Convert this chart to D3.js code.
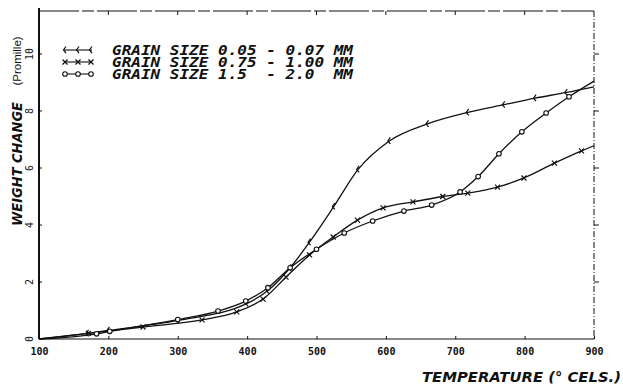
<!DOCTYPE html>
<html>
<head>
<meta charset="utf-8">
<script src="https://cdn.jsdelivr.net/npm/d3@7"></script>
<style>
  body { margin: 0; background: #fff; }
  svg { display: block; }
</style>
</head>
<body>
<script>
// temperatures (deg C) and weight change (promille)
var tempFine = [100, 170, 200, 300, 400, 430, 462, 490, 525, 560, 605, 660, 718, 770, 815, 860, 900];
var wFine    = [0, 0.2, 0.3, 0.65, 1.25, 1.7, 2.5, 3.4, 4.65, 5.95, 6.95, 7.55, 7.95, 8.22, 8.45, 8.65, 8.85];

var tempMid = [100, 171, 250, 335, 385, 423, 456, 490, 524, 559, 596, 639, 682, 718, 761, 799, 843, 882, 900];
var wMid    = [0, 0.2, 0.42, 0.67, 0.95, 1.4, 2.17, 2.95, 3.58, 4.17, 4.6, 4.81, 5.0, 5.12, 5.33, 5.65, 6.17, 6.6, 6.78];

var tempCoarse = [100, 183, 202, 300, 358, 398, 430, 462, 500, 540, 581, 626, 666, 707, 733, 763, 796, 831, 864, 900];
var wCoarse    = [0, 0.18, 0.27, 0.68, 0.98, 1.33, 1.8, 2.5, 3.15, 3.72, 4.14, 4.49, 4.7, 5.16, 5.7, 6.5, 7.27, 7.93, 8.5, 9.05];

var legendLabels = ["GRAIN SIZE 0.05 - 0.07 MM", "GRAIN SIZE 0.75 - 1.00 MM", "GRAIN SIZE 1.5  - 2.0  MM"];
var xTicks = [100, 200, 300, 400, 500, 600, 700, 800, 900];
var yTicks = [0, 2, 4, 6, 8, 10];

var series = [
  { label: legendLabels[0], marker: "tick", t: tempFine, w: wFine },
  { label: legendLabels[1], marker: "cross", t: tempMid, w: wMid },
  { label: legendLabels[2], marker: "circle", t: tempCoarse, w: wCoarse }
];

var W = 623, H = 385;
var svg = d3.select("body").append("svg").attr("width", W).attr("height", H);

var x = d3.scaleLinear().domain([100, 900]).range([39, 594]);
var y = d3.scaleLinear().domain([0, 10]).range([339, 54]);
var yTop = 11;

var ink = "#111";

// frame
var frame = svg.append("g").attr("fill", "none").attr("stroke", ink);
frame.append("line").attr("x1", x(100)).attr("x2", x(100)).attr("y1", yTop - 3).attr("y2", y(0)).attr("stroke-width", 2);
frame.append("line").attr("x1", x(100)).attr("x2", x(900)).attr("y1", y(0)).attr("y2", y(0)).attr("stroke-width", 1.2);
frame.append("line").attr("x1", x(100)).attr("x2", x(900)).attr("y1", yTop).attr("y2", yTop).attr("stroke-width", 1)
  .attr("stroke-dasharray", "40 3 12 3");
frame.append("line").attr("x1", x(900)).attr("x2", x(900)).attr("y1", yTop).attr("y2", y(0)).attr("stroke-width", 1)
  .attr("stroke-dasharray", "6 2 1 2");

// bottom axis
var xAxis = d3.axisBottom(x).tickValues(xTicks).tickSize(0).tickPadding(9);
var gx = svg.append("g").attr("transform", "translate(0," + y(0) + ")").call(xAxis);
gx.select(".domain").remove();
gx.selectAll("text").attr("font-family", "DejaVu Sans Mono").attr("font-weight", "bold").attr("font-size", 10).attr("fill", ink);
gx.selectAll(".tick").append("line").attr("y1", 0).attr("y2", -3).attr("stroke", ink);

// top ticks
svg.append("g").selectAll("line").data(xTicks.slice(1, -1)).join("line")
  .attr("x1", d => x(d)).attr("x2", d => x(d)).attr("y1", yTop).attr("y2", yTop + 4)
  .attr("stroke", ink);

// left axis, rotated labels
var gy = svg.append("g");
gy.selectAll("line").data(yTicks).join("line")
  .attr("x1", x(100)).attr("x2", x(100) + 3).attr("y1", d => y(d)).attr("y2", d => y(d)).attr("stroke", ink);
gy.selectAll("text").data(yTicks).join("text")
  .attr("transform", d => "translate(" + (x(100) - 6) + "," + y(d) + ") rotate(-90)")
  .attr("text-anchor", "middle")
  .attr("font-family", "DejaVu Sans Mono").attr("font-size", 10).attr("fill", ink)
  .text(d => d);

// right axis ticks
svg.append("g").selectAll("line").data(yTicks.slice(1)).join("line")
  .attr("x1", x(900)).attr("x2", x(900) + 5).attr("y1", d => y(d)).attr("y2", d => y(d)).attr("stroke", ink);

// axis titles
svg.append("text")
  .attr("transform", "translate(22,164) rotate(-90)")
  .attr("text-anchor", "middle")
  .attr("font-family", "DejaVu Sans").attr("font-weight", "bold").attr("font-style", "italic")
  .attr("font-size", 14).attr("fill", ink)
  .attr("textLength", 124).attr("lengthAdjust", "spacingAndGlyphs")
  .text("WEIGHT CHANGE");
svg.append("text")
  .attr("transform", "translate(21,61) rotate(-90)")
  .attr("text-anchor", "middle")
  .attr("font-family", "Liberation Sans").attr("font-size", 11.5).attr("fill", ink)
  .text("(Promille)");
svg.append("text")
  .attr("x", 422).attr("y", 382)
  .attr("font-family", "DejaVu Sans").attr("font-weight", "bold").attr("font-style", "italic")
  .attr("font-size", 14.5).attr("fill", ink)
  .attr("textLength", 199).attr("lengthAdjust", "spacingAndGlyphs")
  .text("TEMPERATURE  (\u00B0 CELS.)");

// curves
var line = d3.line().x(d => x(d[0])).y(d => y(d[1])).curve(d3.curveMonotoneX);

function drawMarker(g, type, px, py) {
  if (type === "circle") {
    g.append("circle").attr("cx", px).attr("cy", py).attr("r", 2.3)
      .attr("fill", "#fff").attr("stroke", ink).attr("stroke-width", 1.1);
  } else if (type === "cross") {
    g.append("path").attr("d", "M" + (px - 2.5) + "," + (py - 2.5) + "L" + (px + 2.5) + "," + (py + 2.5) +
      "M" + (px - 2.5) + "," + (py + 2.5) + "L" + (px + 2.5) + "," + (py - 2.5))
      .attr("stroke", ink).attr("stroke-width", 1.2);
  } else {
    g.append("path").attr("d", "M" + (px + 1) + "," + (py - 3.5) + "L" + (px - 1.5) + "," + py + "L" + (px + 1) + "," + (py + 3))
      .attr("fill", "none").attr("stroke", ink).attr("stroke-width", 1.2);
  }
}

series.forEach(function (s) {
  var pts = s.t.map((t, i) => [t, s.w[i]]);
  var g = svg.append("g");
  g.append("path").datum(pts).attr("d", line)
    .attr("fill", "none").attr("stroke", ink).attr("stroke-width", 1.3);
  pts.slice(1, -1).forEach(p => drawMarker(g, s.marker, x(p[0]), y(p[1])));
});

// legend
var legend = svg.append("g");
series.forEach(function (s, i) {
  var ly = 50 + i * 12;
  legend.append("line").attr("x1", 64).attr("x2", 92).attr("y1", ly).attr("y2", ly).attr("stroke", ink).attr("stroke-width", 1.1);
  [65, 78, 91].forEach(px => drawMarker(legend, s.marker, px, ly));
  legend.append("text")
    .attr("x", 112).attr("y", ly + 5)
    .attr("font-family", "DejaVu Sans Mono").attr("font-weight", "bold").attr("font-style", "italic")
    .attr("font-size", 13.5).attr("fill", ink)
    .attr("xml:space", "preserve").style("white-space", "pre")
    .attr("textLength", 241).attr("lengthAdjust", "spacingAndGlyphs")
    .text(s.label);
});
</script>
</body>
</html>
